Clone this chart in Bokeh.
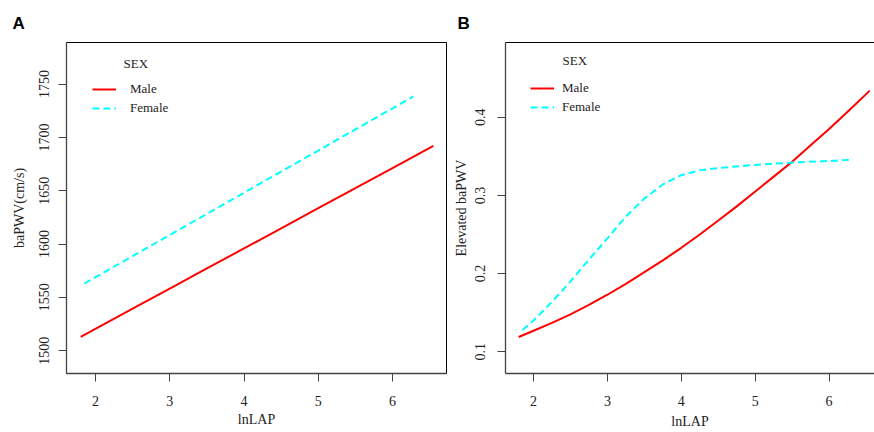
from bokeh.plotting import figure
from bokeh.layouts import row
from bokeh.models import FixedTicker, LinearAxis, Label, Legend, LegendItem, Range1d, Title
from bokeh.embed import file_html
from bokeh.resources import INLINE

# ---------------- data ----------------
x_ticks = [2, 3, 4, 5, 6]
a_y_ticks = [1500, 1550, 1600, 1650, 1700, 1750]
b_y_ticks = [0.1, 0.2, 0.3, 0.4]

# Panel A: baPWV(cm/s) vs lnLAP
a_male_x = [1.8, 2.5, 3.0, 3.5, 4.0, 4.5, 5.0, 5.5, 6.0, 6.55]
a_male_y = [1513, 1539.4, 1558.2, 1577.1, 1595.9, 1614.7, 1633.6, 1652.4, 1671.3, 1692]
a_female_x = [1.85, 2.5, 3.0, 3.5, 4.0, 4.5, 5.0, 5.5, 6.0, 6.28]
a_female_y = [1563, 1588.7, 1608.5, 1628.3, 1648.1, 1667.9, 1687.7, 1707.5, 1727.3, 1738.4]

# Panel B: Elevated baPWV vs lnLAP
b_male_x = [1.8, 2.0, 2.25, 2.5, 2.75, 3.0, 3.25, 3.5, 3.75, 4.0, 4.25, 4.5, 4.75,
            5.0, 5.25, 5.5, 5.75, 6.0, 6.25, 6.55]
b_male_y = [0.119, 0.127, 0.137, 0.148, 0.160, 0.173, 0.187, 0.202, 0.217, 0.233, 0.250,
            0.268, 0.286, 0.305, 0.324, 0.343, 0.364, 0.385, 0.407, 0.434]
b_female_x = [1.85, 2.0, 2.25, 2.5, 2.75, 3.0, 3.25, 3.5, 3.75, 4.0, 4.25, 4.5, 5.0, 5.5, 6.0, 6.28]
b_female_y = [0.128, 0.140, 0.164, 0.190, 0.218, 0.245, 0.273, 0.296, 0.314, 0.326, 0.332,
              0.335, 0.339, 0.342, 0.344, 0.3455]

series_labels = ["Male", "Female"]
legend_title = "SEX"
x_title = "lnLAP"
a_y_title = "baPWV(cm/s)"
b_y_title = "Elevated baPWV"

SERIF = "Liberation Serif"
MALE_COLOR = "#ff0000"
FEMALE_COLOR = "#00ffff"
AX_COLOR = "#444444"
TXT = "#222222"


def style_axes(p, yticks, xtitle, ytitle, xl_standoff, xt_standoff, yl_standoff, yt_standoff):
    p.xgrid.visible = False
    p.ygrid.visible = False
    p.background_fill_color = "white"
    p.border_fill_color = "white"
    for ax in (p.xaxis[0], p.yaxis[0]):
        ax.axis_line_color = AX_COLOR
        ax.axis_line_width = 1.3
        ax.major_tick_line_color = AX_COLOR
        ax.major_tick_out = 8
        ax.major_tick_in = 0
        ax.minor_tick_line_color = None
        ax.major_label_text_font = SERIF
        ax.major_label_text_font_size = "14px"
        ax.major_label_text_color = TXT
        ax.axis_label_text_font = SERIF
        ax.axis_label_text_font_size = "14px"
        ax.axis_label_text_font_style = "normal"
        ax.axis_label_text_color = TXT
    p.xaxis[0].ticker = FixedTicker(ticks=x_ticks)
    p.xaxis[0].major_label_standoff = xl_standoff
    p.xaxis[0].axis_label = xtitle
    p.xaxis[0].axis_label_standoff = xt_standoff
    p.yaxis[0].ticker = FixedTicker(ticks=yticks)
    p.yaxis[0].major_label_orientation = "vertical"
    p.yaxis[0].major_label_standoff = yl_standoff
    p.yaxis[0].axis_label = ytitle
    p.yaxis[0].axis_label_standoff = yt_standoff


def add_letter(p, letter, offset):
    t = Title(text=letter, align="left", offset=offset, text_font="Liberation Sans",
              text_font_style="bold", text_font_size="17px", text_color="black",
              standoff=19)
    p.add_layout(t, "above")


def add_sex(p, frame_h, dy):
    p.add_layout(Label(x=57, y=frame_h - dy, x_units="screen", y_units="screen",
                       text=legend_title, text_font=SERIF, text_font_size="13px",
                       text_baseline="middle", text_align="left", text_color=TXT))


def make_legend(p, rm, rf, x, y, standoff):
    leg = Legend(items=[LegendItem(label=series_labels[0], renderers=[rm]),
                        LegendItem(label=series_labels[1], renderers=[rf])],
                 location=(x, y), orientation="vertical",
                 padding=0, margin=0, spacing=3, glyph_width=24, glyph_height=16,
                 label_height=16, label_standoff=standoff, border_line_color=None,
                 background_fill_alpha=0, label_text_font=SERIF,
                 label_text_font_size="13px", label_text_color=TXT)
    p.add_layout(leg)


# ---------------- Panel A ----------------
A_TOP, A_BOT = 42, 57
FA_H = 432 - A_TOP - A_BOT
pA = figure(width=450, height=432, output_backend="svg", toolbar_location=None,
            x_range=Range1d(1.609, 6.727), y_range=Range1d(1478.6, 1789.0),
            min_border_left=66, min_border_right=4, min_border_top=A_TOP,
            min_border_bottom=A_BOT)
style_axes(pA, a_y_ticks, x_title, a_y_title, 14, 3, 9, 10)
pA.outline_line_color = "black"
pA.outline_line_width = 1
rA_m = pA.line(a_male_x, a_male_y, line_color=MALE_COLOR, line_width=2)
rA_f = pA.line(a_female_x, a_female_y, line_color=FEMALE_COLOR, line_width=2, line_dash="7 4")
make_legend(pA, rA_m, rA_f, 26, FA_H - 76.3, 14)
add_sex(pA, FA_H, 23.4)
add_letter(pA, "A", -54)

# ---------------- Panel B ----------------
B_TOP, B_BOT = 42, 59
FB_H = 432 - B_TOP - B_BOT
pB = figure(width=424, height=432, output_backend="svg", toolbar_location=None,
            x_range=Range1d(1.621, 6.614), y_range=Range1d(0.0723, 0.4955),
            min_border_left=55, min_border_right=0, min_border_top=B_TOP,
            min_border_bottom=B_BOT)
style_axes(pB, b_y_ticks, x_title, b_y_title, 14, 5, 12, 4)
pB.outline_line_color = None
top_axis = LinearAxis(ticker=FixedTicker(ticks=[]), axis_line_color="black", axis_line_width=1,
                      major_tick_line_color=None, minor_tick_line_color=None,
                      major_label_text_font_size="0px")
pB.add_layout(top_axis, "above")
rB_m = pB.line(b_male_x, b_male_y, line_color=MALE_COLOR, line_width=2)
rB_f = pB.line(b_female_x, b_female_y, line_color=FEMALE_COLOR, line_width=2, line_dash="7 4")
make_legend(pB, rB_m, rB_f, 25, FB_H - 72.8, 8)
add_sex(pB, FB_H, 18)
add_letter(pB, "B", -48)

layout = row(pA, pB)
open("out.html", "w").write(file_html(layout, INLINE))
